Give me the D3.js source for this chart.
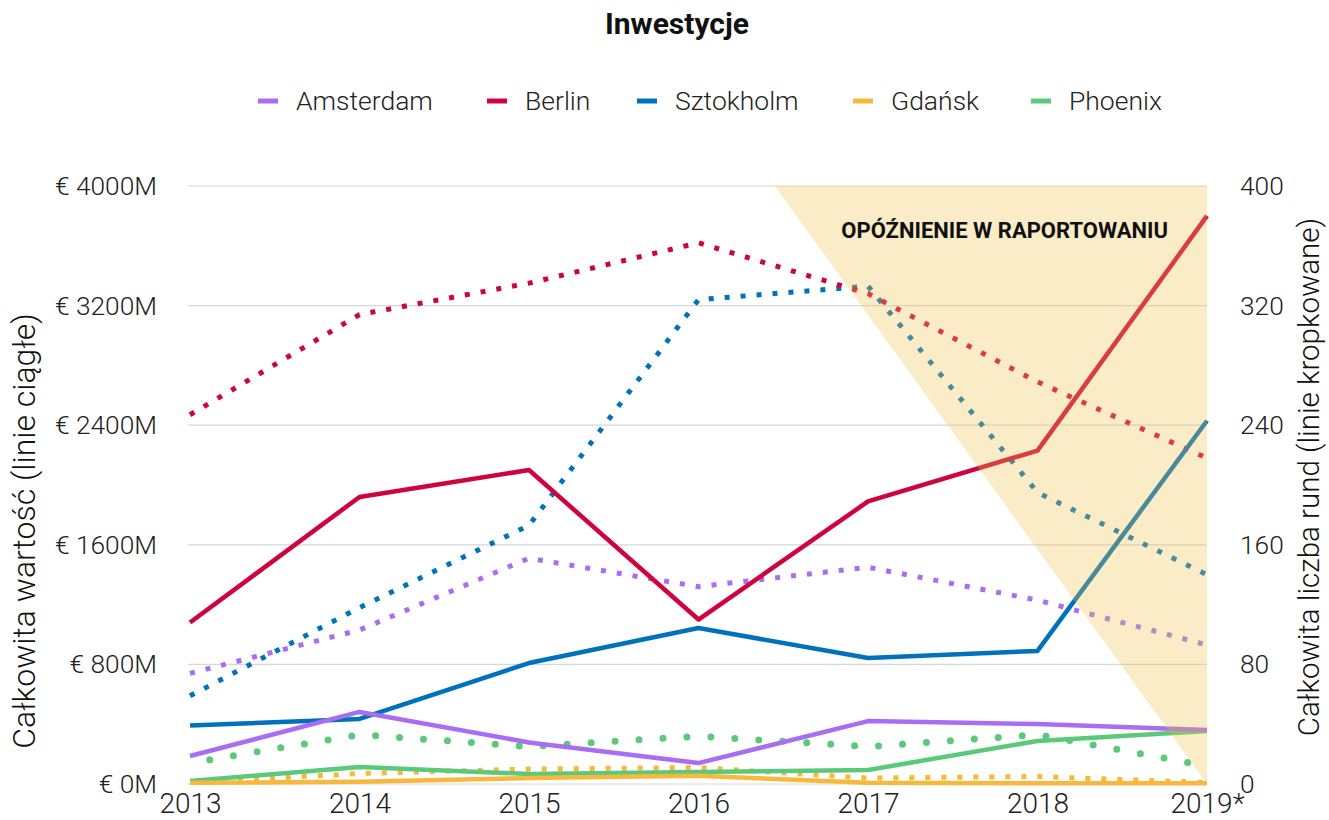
<!DOCTYPE html>
<html>
<head>
<meta charset="utf-8">
<script src="https://cdn.jsdelivr.net/npm/d3@7"></script>
<style>
  html, body { margin: 0; padding: 0; background: #fff; }
  svg { display: block; font-family: Roboto, "Noto Sans", sans-serif; }
</style>
</head>
<body>
<svg id="chart" width="1329" height="820"></svg>
<script>
// ---------- DATA ----------
const years = ["2013", "2014", "2015", "2016", "2017", "2018", "2019*"];
const seriesNames = ["Amsterdam", "Berlin", "Sztokholm", "Gdańsk", "Phoenix"];
const seriesColors = ["#A86DF2", "#D0043C", "#0072BC", "#F8B83E", "#5BC97A"];

// total value (M EUR) – solid lines, left axis
const amsterdamValue = [187, 482, 278, 140, 421, 401, 361];
const berlinValue    = [1080, 1920, 2100, 1100, 1890, 2230, 3800];
const sztokholmValue = [392, 435, 809, 1043, 843, 890, 2430];
const gdanskValue    = [8, 15, 40, 55, 8, 5, 5];
const phoenixValue   = [20, 114, 67, 80, 94, 288, 355];

// number of rounds – dotted lines, right axis
const amsterdamRounds = [74, 103, 151, 132, 145, 123, 93];
const berlinRounds    = [247, 314, 335, 362, 328, 269, 218];
const sztokholmRounds = [59, 118, 173, 324, 333, 195, 140];
const gdanskRounds    = [1, 7, 10, 11, 4, 5, 1];
const phoenixRounds   = [14, 33, 25, 32, 25, 33, 12];

const leftTicks  = [0, 800, 1600, 2400, 3200, 4000];
const rightTicks = [0, 80, 160, 240, 320, 400];
const delayStart = 3.45;   // index position where the reporting-delay zone begins (at top)

const titleText = "Inwestycje";
const leftTitle = "Całkowita wartość (linie ciągłe)";
const rightTitle = "Całkowita liczba rund (linie kropkowane)";
const delayText = "OPÓŹNIENIE W RAPORTOWANIU";

// ---------- SETUP ----------
const valueSeries  = [amsterdamValue, berlinValue, sztokholmValue, gdanskValue, phoenixValue];
const roundsSeries = [amsterdamRounds, berlinRounds, sztokholmRounds, gdanskRounds, phoenixRounds];

const svg = d3.select("#chart");
const pLeft = 190, pRight = 1207, pTop = 186, pBottom = 784;

const x = d3.scaleLinear().domain([0, years.length - 1]).range([pLeft, pRight]);
const yL = d3.scaleLinear().domain([0, 4000]).range([pBottom, pTop]);
const yR = d3.scaleLinear().domain([0, 400]).range([pBottom, pTop]);

// title
svg.append("text").attr("x", 677).attr("y", 34).attr("text-anchor", "middle")
  .attr("font-size", 30).attr("font-weight", 700).attr("fill", "#111").text(titleText);

// legend
const legendX = [258, 487, 637, 853, 1031];
const lg = svg.append("g");
seriesNames.forEach((n, i) => {
  lg.append("line").attr("x1", legendX[i]).attr("x2", legendX[i] + 20)
    .attr("y1", 101).attr("y2", 101).attr("stroke", seriesColors[i]).attr("stroke-width", 5);
  lg.append("text").attr("x", legendX[i] + 38).attr("y", 110)
    .attr("font-size", 26.5).attr("font-weight", 300).attr("fill", "#222").text(n);
});

// gridlines
svg.append("g").selectAll("line").data(leftTicks).join("line")
  .attr("x1", pLeft - 2).attr("x2", pRight)
  .attr("y1", d => yL(d)).attr("y2", d => yL(d))
  .attr("stroke", "#D3D7DE").attr("stroke-width", 1.2);

// axes
const axL = svg.append("g").attr("transform", `translate(${pLeft},0)`)
  .call(d3.axisLeft(yL).tickValues(leftTicks).tickSize(0).tickPadding(33).tickFormat(d => "€ " + d + "M"));
const axR = svg.append("g").attr("transform", `translate(${pRight},0)`)
  .call(d3.axisRight(yR).tickValues(rightTicks).tickSize(0).tickPadding(33));
const axB = svg.append("g").attr("transform", `translate(0,${pBottom})`)
  .call(d3.axisBottom(x).tickValues(d3.range(years.length)).tickSize(0).tickPadding(9).tickFormat(i => years[i]));
[axL, axR].forEach(a => {
  a.select(".domain").remove();
  a.selectAll("text").attr("font-family", "Roboto").attr("font-size", 26.3)
    .attr("font-weight", 300).attr("fill", "#222");
});
axB.select(".domain").remove();
axB.selectAll("text").attr("font-family", "Roboto").attr("font-size", 28)
  .attr("font-weight", 300).attr("fill", "#222");

// axis titles
svg.append("text").attr("transform", "translate(35,531) rotate(-90)").attr("text-anchor", "middle")
  .attr("font-size", 32).attr("font-weight", 300).attr("fill", "#111").text(leftTitle);
svg.append("text").attr("transform", "translate(1319,477) rotate(-90)").attr("text-anchor", "middle")
  .attr("font-size", 29.5).attr("font-weight", 300).attr("fill", "#111").text(rightTitle);

// lines
const lineL = d3.line().x((d, i) => x(i)).y(d => yL(d));
const lineR = d3.line().x((d, i) => x(i)).y(d => yR(d));
const plot = svg.append("g");

// dotted (rounds) first – drawn in reverse legend order
for (let i = seriesNames.length - 1; i >= 0; i--) {
  const isRound = seriesNames[i] === "Phoenix";
  plot.append("path").datum(roundsSeries[i]).attr("d", lineR)
    .attr("fill", "none").attr("stroke", seriesColors[i])
    .attr("stroke-width", isRound ? 7 : 5)
    .attr("stroke-linecap", isRound ? "round" : "butt")
    .attr("stroke-dasharray", isRound ? "0,24" : "5,11")
    .attr("stroke-dashoffset", isRound ? 4 : 0);
}
// solid (value)
for (let i = seriesNames.length - 1; i >= 0; i--) {
  plot.append("path").datum(valueSeries[i]).attr("d", lineL)
    .attr("fill", "none").attr("stroke", seriesColors[i])
    .attr("stroke-width", 4.5).attr("stroke-linejoin", "round");
}

// reporting delay zone (overlay)
const zone = [[delayStart, 4000], [years.length - 1, 4000], [years.length - 1, 0]];
svg.append("path")
  .attr("d", d3.line().x(d => x(d[0])).y(d => yL(d[1]))(zone) + "Z")
  .attr("fill", "#F3C04A").attr("fill-opacity", 0.3);
svg.append("text").attr("x", 1168).attr("y", 238).attr("text-anchor", "end")
  .attr("font-size", 22).attr("font-weight", 700).attr("fill", "#111").text(delayText);
</script>
</body>
</html>
